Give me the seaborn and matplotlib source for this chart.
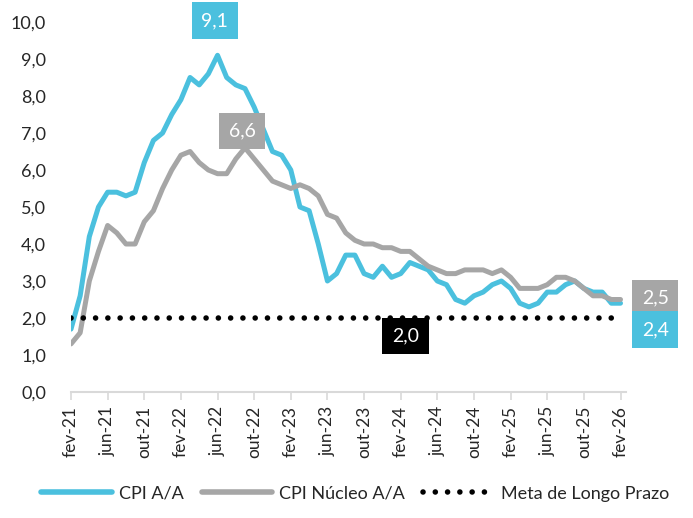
import matplotlib
matplotlib.use("Agg")
import matplotlib.pyplot as plt
import seaborn as sns
import pandas as pd
import numpy as np

# monthly data, fev-21 .. fev-26
months = pd.date_range("2021-02-01", "2026-02-01", freq="MS")
cpi = [1.7, 2.6, 4.2, 5.0, 5.4, 5.4, 5.3, 5.4, 6.2, 6.8, 7.0,
       7.5, 7.9, 8.5, 8.3, 8.6, 9.1, 8.5, 8.3, 8.2, 7.7, 7.1, 6.5,
       6.4, 6.0, 5.0, 4.9, 4.0, 3.0, 3.2, 3.7, 3.7, 3.2, 3.1, 3.4,
       3.1, 3.2, 3.5, 3.4, 3.3, 3.0, 2.9, 2.5, 2.4, 2.6, 2.7, 2.9,
       3.0, 2.8, 2.4, 2.3, 2.4, 2.7, 2.7, 2.9, 3.0, 2.8, 2.7, 2.7,
       2.4, 2.4]
core = [1.3, 1.6, 3.0, 3.8, 4.5, 4.3, 4.0, 4.0, 4.6, 4.9, 5.5,
        6.0, 6.4, 6.5, 6.2, 6.0, 5.9, 5.9, 6.3, 6.6, 6.3, 6.0, 5.7,
        5.6, 5.5, 5.6, 5.5, 5.3, 4.8, 4.7, 4.3, 4.1, 4.0, 4.0, 3.9,
        3.9, 3.8, 3.8, 3.6, 3.4, 3.3, 3.2, 3.2, 3.3, 3.3, 3.3, 3.2,
        3.3, 3.1, 2.8, 2.8, 2.8, 2.9, 3.1, 3.1, 3.0, 2.8, 2.6, 2.6,
        2.5, 2.5]
meta = 2.0

pt_months = {1: "jan", 2: "fev", 3: "mar", 4: "abr", 5: "mai", 6: "jun",
             7: "jul", 8: "ago", 9: "set", 10: "out", 11: "nov", 12: "dez"}

BLUE = "#4BC0DE"
GRAY = "#A6A6A6"

df = pd.DataFrame({"idx": np.arange(len(months)), "cpi": cpi, "core": core})
df["meta"] = meta

sns.set_style("white")
plt.rcParams["font.family"] = ["Lato", "DejaVu Sans"]

fig = plt.figure(figsize=(6.93, 5.18), dpi=100)
ax = fig.add_axes([71 / 693, 126 / 518, 555 / 693, 370 / 518])

sns.lineplot(data=df, x="idx", y="cpi", ax=ax, color=BLUE, linewidth=3.6,
             label="CPI A/A", solid_capstyle="round", solid_joinstyle="round")
sns.lineplot(data=df, x="idx", y="core", ax=ax, color=GRAY, linewidth=3.6,
             label="CPI Núcleo A/A", solid_capstyle="round", solid_joinstyle="round")
ax.plot(df["idx"], df["meta"], color="black", linewidth=4,
        linestyle=(0, (0.01, 2.2)), dash_capstyle="round",
        label="Meta de Longo Prazo")

n = len(months)
ax.set_xlim(0, n - 1 + 0.6)
ax.set_ylim(0, 10)
ticks = list(range(0, n, 4))
ax.set_xticks(ticks)
ax.set_xticklabels([f"{pt_months[months[i].month]}-{months[i].strftime('%y')}" for i in ticks],
                   rotation=90, fontsize=12.5)
ax.set_yticks(np.arange(0, 11, 1))
ax.set_yticklabels([f"{v:.1f}".replace(".", ",") for v in np.arange(0, 11, 1)], fontsize=13)
ax.set_xlabel("")
ax.set_ylabel("")

for s in ["top", "right", "left"]:
    ax.spines[s].set_visible(False)
ax.spines["bottom"].set_color("#D9D9D9")
ax.spines["bottom"].set_linewidth(1.5)
ax.tick_params(axis="x", which="both", bottom=True, length=6, width=1.2,
               color="#D9D9D9", pad=4)
ax.tick_params(axis="y", length=0, pad=18)

def box(x, y, text, fc, dx=0, dy=0):
    ax.annotate(text, xy=(x, y), xytext=(dx, dy), textcoords="offset points",
                ha="center", va="center", fontsize=14, color="white",
                bbox=dict(boxstyle="square,pad=0.5", fc=fc, ec="none"))

i_peak = int(np.argmax(cpi))
box(i_peak, cpi[i_peak], f"{cpi[i_peak]:.1f}".replace(".", ","), BLUE, dx=-2, dy=25)
i_core = int(np.argmax(core))
box(i_core, core[i_core], f"{core[i_core]:.1f}".replace(".", ","), GRAY, dx=-2, dy=12)
box(36.5, meta, f"{meta:.1f}".replace(".", ","), "black", dy=-13)
box(n - 1, core[-1], f"{core[-1]:.1f}".replace(".", ","), GRAY, dx=25, dy=1)
box(n - 1, cpi[-1], f"{cpi[-1]:.1f}".replace(".", ","), BLUE, dx=25, dy=-19)

leg = ax.legend(loc="center", bbox_to_anchor=(0.512, -0.275), ncol=3,
                frameon=False, fontsize=13, handlelength=3.9, columnspacing=1.0,
                handletextpad=0.4)
for h in leg.get_lines():
    h.set_linewidth(4)

fig.savefig("out.png", dpi=100)
